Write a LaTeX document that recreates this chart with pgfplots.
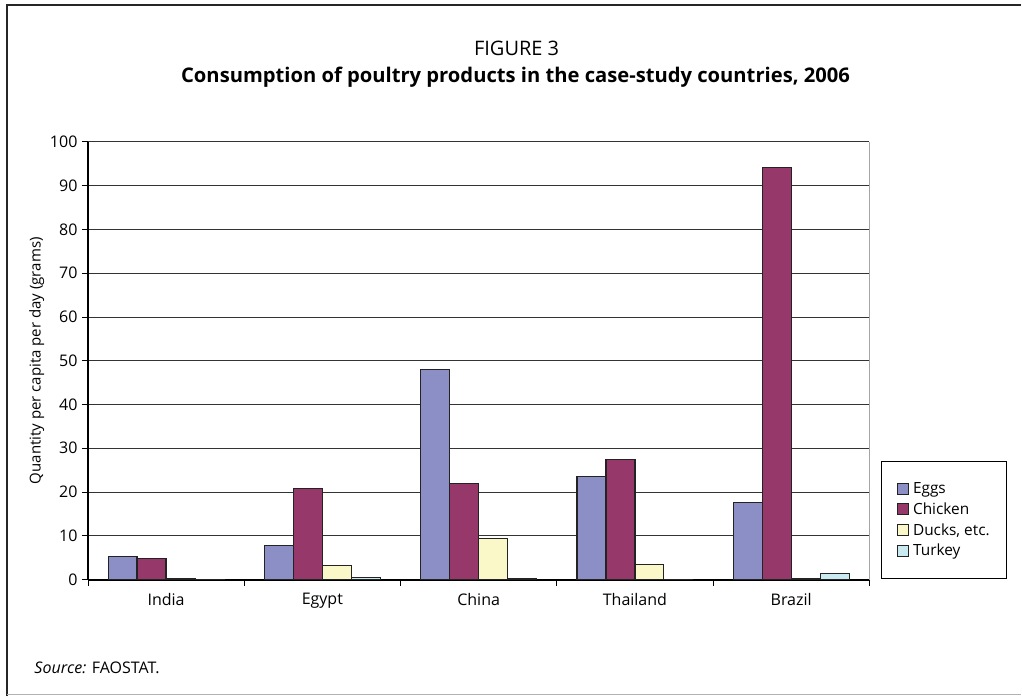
\documentclass[border=0pt]{standalone}
\usepackage{pgfplots}
\pgfplotsset{compat=1.18}
\usepackage{fontspec}
\setmainfont{Open Sans}
\definecolor{eggs}{RGB}{140,143,198}
\definecolor{chicken}{RGB}{150,56,106}
\definecolor{ducks}{RGB}{250,248,200}
\definecolor{turkey}{RGB}{200,234,240}
\definecolor{barline}{RGB}{35,35,35}
\begin{document}
\begin{tikzpicture}[x=1bp,y=1bp]
\fill[white] (0,0) rectangle (1022,-697);
\draw[line width=1.6bp, black!85] (7,-697) -- (7,-5) -- (1022,-5);
\draw[line width=1.2bp, black!30] (7,-695) -- (1022,-695);
\node[font=\fontsize{20bp}{24bp}\selectfont] at (517,-48) {FIGURE 3};
\node[font=\fontsize{20.2bp}{24bp}\selectfont\bfseries] at (516,-77) {Consumption of poultry products in the case-study countries, 2006};
\node[anchor=west, font=\fontsize{16bp}{19bp}\selectfont] at (31,-668) {\textit{Source:} FAOSTAT.};
\begin{axis}[
  at={(88bp,-580bp)}, anchor=south west,
  scale only axis, width=782bp, height=438bp,
  ybar=0pt, bar width=29bp,
  xmin=-0.5, xmax=4.5, ymin=0, ymax=100,
  ytick={0,10,...,100},
  xtick={-0.5,0.5,...,4.5}, xticklabels={},
  extra x ticks={0,1,2,3,4},
  extra x tick labels={India,Egypt,China,Thailand,Brazil},
  extra x tick style={major tick length=0pt, xticklabel style={yshift=-10bp}},
  tick align=outside, major tick length=6bp,
  tick style={black, line width=0.8bp},
  ymajorgrids, grid style={black!80, line width=0.8bp},
  axis line style={black, line width=0.8bp},
  every outer x axis line/.append style={line width=2bp},
  every outer y axis line/.append style={line width=2bp},
  axis x line*=bottom, axis y line*=left,
  /pgf/number format/assume math mode=true,
  tick label style={font=\fontsize{16bp}{19bp}\selectfont},
  yticklabel style={xshift=-1bp},
  ylabel={Quantity per capita per day (grams)},
  ylabel style={font=\fontsize{15bp}{18bp}\selectfont, yshift=-1bp},
  legend style={at={(1.0153,0.002)}, anchor=south west, draw=black, line width=1bp,
    font=\fontsize{15.4bp}{18bp}\selectfont, inner xsep=15bp, inner ysep=19bp,
    row sep=3.5bp, legend cell align=left, column sep=2.5bp},
  legend image code/.code={\draw[#1, line width=0.8bp] (0bp,-5.5bp) rectangle (11bp,5.5bp);},
  every axis plot/.append style={draw=barline, line width=1.2bp},
]
\addplot[fill=eggs] coordinates {(0,5.25) (1,7.8) (2,48.0) (3,23.5) (4,17.6)};
\addplot[fill=chicken] coordinates {(0,4.8) (1,20.8) (2,21.9) (3,27.4) (4,94.1)};
\addplot[fill=ducks] coordinates {(0,0.3) (1,3.2) (2,9.4) (3,3.4) (4,0.3)};
\addplot[fill=turkey] coordinates {(0,0.1) (1,0.5) (2,0.2) (3,0.1) (4,1.4)};
\legend{Eggs,Chicken,{Ducks, etc.},Turkey}
\draw[black, line width=0.8bp] (axis cs:4.5,0) -- (axis cs:4.5,100);
\end{axis}
\end{tikzpicture}
\end{document}
